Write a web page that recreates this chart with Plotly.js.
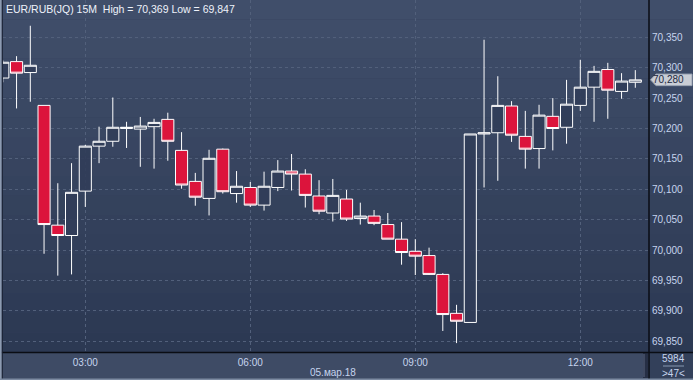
<!DOCTYPE html>
<html>
<head>
<meta charset="utf-8">
<script src="https://cdn.plot.ly/plotly-3.0.1.min.js"></script>
<style>
html,body{margin:0;padding:0;background:#34415c;overflow:hidden;}
#chart{width:693px;height:380px;}
</style>
</head>
<body>
<div id="chart"></div>
<script>
// ---- data (EUR/RUB(JQ) 15M, 05.03.2018) ----
const sessionDate = '2018-03-05';
const times = ['01:30','01:45','02:00','02:15','02:30','02:45','03:00','03:15','03:30','03:45',
  '04:00','04:15','04:30','04:45','05:00','05:15','05:30','05:45','06:00','06:15',
  '06:30','06:45','07:00','07:15','07:30','07:45','08:00','08:15','08:30','08:45',
  '09:00','09:15','09:30','09:45','10:00','10:15','10:30','10:45','11:00','11:15',
  '11:30','11:45','12:00','12:15','12:30','12:45','13:00'];
const openVals = [70.283,70.310,70.292,70.238,70.041,70.024,70.097,70.171,70.179,70.200,
  70.199,70.203,70.215,70.164,70.113,70.085,70.166,70.093,70.103,70.074,
  70.103,70.130,70.125,70.089,70.061,70.084,70.052,70.056,70.042,70.018,
  69.998,69.991,69.960,69.896,69.881,70.191,70.193,70.237,70.187,70.167,
  70.220,70.202,70.238,70.268,70.297,70.261,70.276];
const highVals = [70.312,70.319,70.369,70.238,70.110,70.143,70.173,70.203,70.251,70.211,
  70.219,70.216,70.226,70.194,70.127,70.165,70.167,70.130,70.112,70.129,
  70.148,70.158,70.133,70.115,70.117,70.099,70.078,70.066,70.061,70.046,
  70.018,70.004,69.962,69.910,70.191,70.346,70.286,70.245,70.229,70.239,
  70.250,70.280,70.313,70.303,70.308,70.291,70.296];
const lowVals = [70.276,70.233,70.244,69.994,69.958,69.960,70.071,70.143,70.170,70.168,
  70.137,70.134,70.147,70.101,70.073,70.057,70.093,70.078,70.071,70.065,
  70.097,70.098,70.070,70.059,70.047,70.048,70.042,70.041,70.018,69.976,
  69.959,69.959,69.867,69.847,69.881,70.103,70.114,70.178,70.134,70.134,
  70.164,70.175,70.229,70.211,70.216,70.249,70.267];
const closeVals = [70.309,70.291,70.304,70.042,70.024,70.095,70.171,70.179,70.202,70.202,
  70.204,70.210,70.179,70.107,70.087,70.151,70.096,70.105,70.074,70.105,
  70.130,70.125,70.090,70.064,70.090,70.051,70.056,70.044,70.018,69.996,
  69.990,69.960,69.894,69.883,70.191,70.193,70.238,70.189,70.166,70.222,
  70.200,70.240,70.268,70.294,70.263,70.278,70.280];
const yTickVals = [69.85,69.90,69.95,70.00,70.05,70.10,70.15,70.20,70.25,70.30,70.35];
const yTickText = ['69,850','69,900','69,950','70,000','70,050','70,100','70,150','70,200','70,250','70,300','70,350'];
const xTickVals = ['03:00','06:00','09:00','12:00'];
const titleText = 'EUR/RUB(JQ) 15M  High = 70,369 Low = 69,847';
const dateLabel = '05.мар.18';
const barCount = '5984';
const visibleBars = '>47<';

(function () {
// ---- geometry helpers (page px -> paper) ----
const W = 693, H = 380, ML = 3, MR = 45, MT = 0, MB = 28;
const PW = W - ML - MR, PH = H - MT - MB;
const px = x => (x - ML) / PW;
const py = y => 1 - (y - MT) / PH;

const xs = times.map(t => sessionDate + ' ' + t);

const shapes = [];
// background gradient bands
const cTop = [64,78,106], cBot = [44,57,83], nb = 18;
for (let i = 0; i < nb; i++) {
  const f = i / (nb - 1);
  const c = cTop.map((v, k) => Math.round(v + (cBot[k] - v) * f));
  shapes.push({type:'rect', xref:'paper', yref:'paper', layer:'below',
    x0:px(0), x1:px(W), y0:py(i*PH/nb), y1:py((i+1)*PH/nb),
    fillcolor:'rgb('+c.join(',')+')', line:{width:0}});
}
// bottom time panel
shapes.push({type:'rect', xref:'paper', yref:'paper', layer:'below',
  x0:px(0), x1:px(649), y0:py(352), y1:py(380), fillcolor:'#3e4b65', line:{width:0}});
shapes.push({type:'rect', xref:'paper', yref:'paper', layer:'below',
  x0:px(649), x1:px(W), y0:py(352), y1:py(380), fillcolor:'#33405a', line:{width:0}});
// scroll handle in bottom panel
shapes.push({type:'rect', xref:'paper', yref:'paper', layer:'above',
  x0:px(643), x1:px(648), y0:py(353), y1:py(378), fillcolor:'#262f45', line:{width:0}});
shapes.push({type:'line', xref:'paper', yref:'paper', layer:'above',
  x0:px(644), x1:px(644), y0:py(354), y1:py(377), line:{color:'#5a6780', width:1}});
// frame lines
shapes.push({type:'line', xref:'paper', yref:'paper', layer:'above',
  x0:px(0), x1:px(W), y0:py(352.5), y1:py(352.5), line:{color:'#0a0d14', width:1.5}});
shapes.push({type:'line', xref:'paper', yref:'paper', layer:'above',
  x0:px(649), x1:px(649), y0:py(0), y1:py(380), line:{color:'#0a0d14', width:1.5}});
shapes.push({type:'rect', xref:'paper', yref:'paper', layer:'above',
  x0:px(0), x1:px(1.8), y0:py(0), y1:py(380), fillcolor:'#8d9bb1', line:{width:0}});
shapes.push({type:'line', xref:'paper', yref:'paper', layer:'above',
  x0:px(2.3), x1:px(2.3), y0:py(0), y1:py(380), line:{color:'#1a2132', width:1}});
shapes.push({type:'rect', xref:'paper', yref:'paper', layer:'above',
  x0:px(0), x1:px(W), y0:py(378.5), y1:py(380), fillcolor:'#7d8ba2', line:{width:0}});
// separator under bar count
shapes.push({type:'line', xref:'paper', yref:'paper', layer:'above',
  x0:px(663), x1:px(684), y0:py(366), y1:py(366), line:{color:'#8797b0', width:1}});

// last price marker
const last = closeVals[closeVals.length - 1];
const hh = 0.0095;
shapes.push({type:'path', xref:'paper', yref:'y', layer:'above',
  path:'M'+px(650.5)+','+last+' L'+px(656)+','+(last+hh)+' L'+px(692)+','+(last+hh)+
       ' L'+px(692)+','+(last-hh)+' L'+px(656)+','+(last-hh)+' Z',
  fillcolor:'#c9cdd5', line:{color:'#9aa3b3', width:1}});

const txtColor = '#c6d4ee';
const font = 'Liberation Sans, Arial, sans-serif';
const annotations = [
  {xref:'paper', yref:'paper', x:px(4), y:py(9), xanchor:'left', yanchor:'middle',
   text:titleText, showarrow:false, font:{family:font, size:10.5, color:'#eef2fa'}},
  {xref:'paper', yref:'paper', x:px(333), y:py(372), xanchor:'center', yanchor:'middle',
   text:dateLabel, showarrow:false, font:{family:font, size:10, color:txtColor}},
  {xref:'paper', yref:'paper', x:px(673), y:py(359), xanchor:'center', yanchor:'middle',
   text:barCount, showarrow:false, font:{family:font, size:10, color:txtColor}},
  {xref:'paper', yref:'paper', x:px(673), y:py(373), xanchor:'center', yanchor:'middle',
   text:visibleBars, showarrow:false, font:{family:font, size:10, color:txtColor}},
  {xref:'paper', yref:'y', x:px(668), y:last, xanchor:'center', yanchor:'middle',
   text:last.toFixed(3).replace('.', ','), showarrow:false,
   font:{family:font, size:10, color:'#1c2840'}}
];

const trace = {
  type:'candlestick', x:xs, open:openVals, high:highVals, low:lowVals, close:closeVals,
  increasing:{line:{color:'#ffffff', width:1}, fillcolor:'rgba(49,61,89,0.9)'},
  decreasing:{line:{color:'#ffffff', width:1}, fillcolor:'#dc143c'},
  whiskerwidth:0, hoverinfo:'skip', showlegend:false
};

// x range: page px 3 .. 648 ; 03:00 candle at page x 85.3, 13.75 px per 15 min
const t0 = new Date(sessionDate + 'T03:00:00Z').getTime();
const msPerPx = 15 * 60000 / 13.75;
const toIso = ms => new Date(ms).toISOString().replace('T', ' ').replace('Z', '');
const xRange = [toIso(t0 + (ML - 85.3) * msPerPx), toIso(t0 + (ML + PW - 85.3) * msPerPx)];
// y range: 70.35 at page y 37.3, 608 px per 1.0
const yRange = [70.35 - (MT + PH - 37.3) / 608, 70.35 + (37.3 - MT) / 608];

const layout = {
  width:W, height:H,
  margin:{l:ML, r:MR, t:MT, b:MB, pad:0},
  paper_bgcolor:'rgba(0,0,0,0)', plot_bgcolor:'rgba(0,0,0,0)',
  boxgap:0.12, boxgroupgap:0,
  showlegend:false,
  xaxis:{type:'date', range:xRange, rangeslider:{visible:false},
    tickvals:xTickVals.map(t => sessionDate + ' ' + t), ticktext:xTickVals,
    showgrid:true, gridcolor:'#52607b', griddash:'3px,3px', gridwidth:1,
    zeroline:false, showline:false, ticks:'', ticklabelstandoff:3,
    tickfont:{family:font, size:10, color:txtColor}},
  yaxis:{side:'right', range:yRange, tickvals:yTickVals, ticktext:yTickText,
    showgrid:true, gridcolor:'#52607b', griddash:'3px,3px', gridwidth:1,
    zeroline:false, showline:false, ticks:'', ticklabelstandoff:3,
    tickfont:{family:font, size:10, color:txtColor}},
  shapes:shapes, annotations:annotations
};

Plotly.newPlot('chart', [trace], layout, {displayModeBar:false, staticPlot:true});
})();
</script>
</body>
</html>
